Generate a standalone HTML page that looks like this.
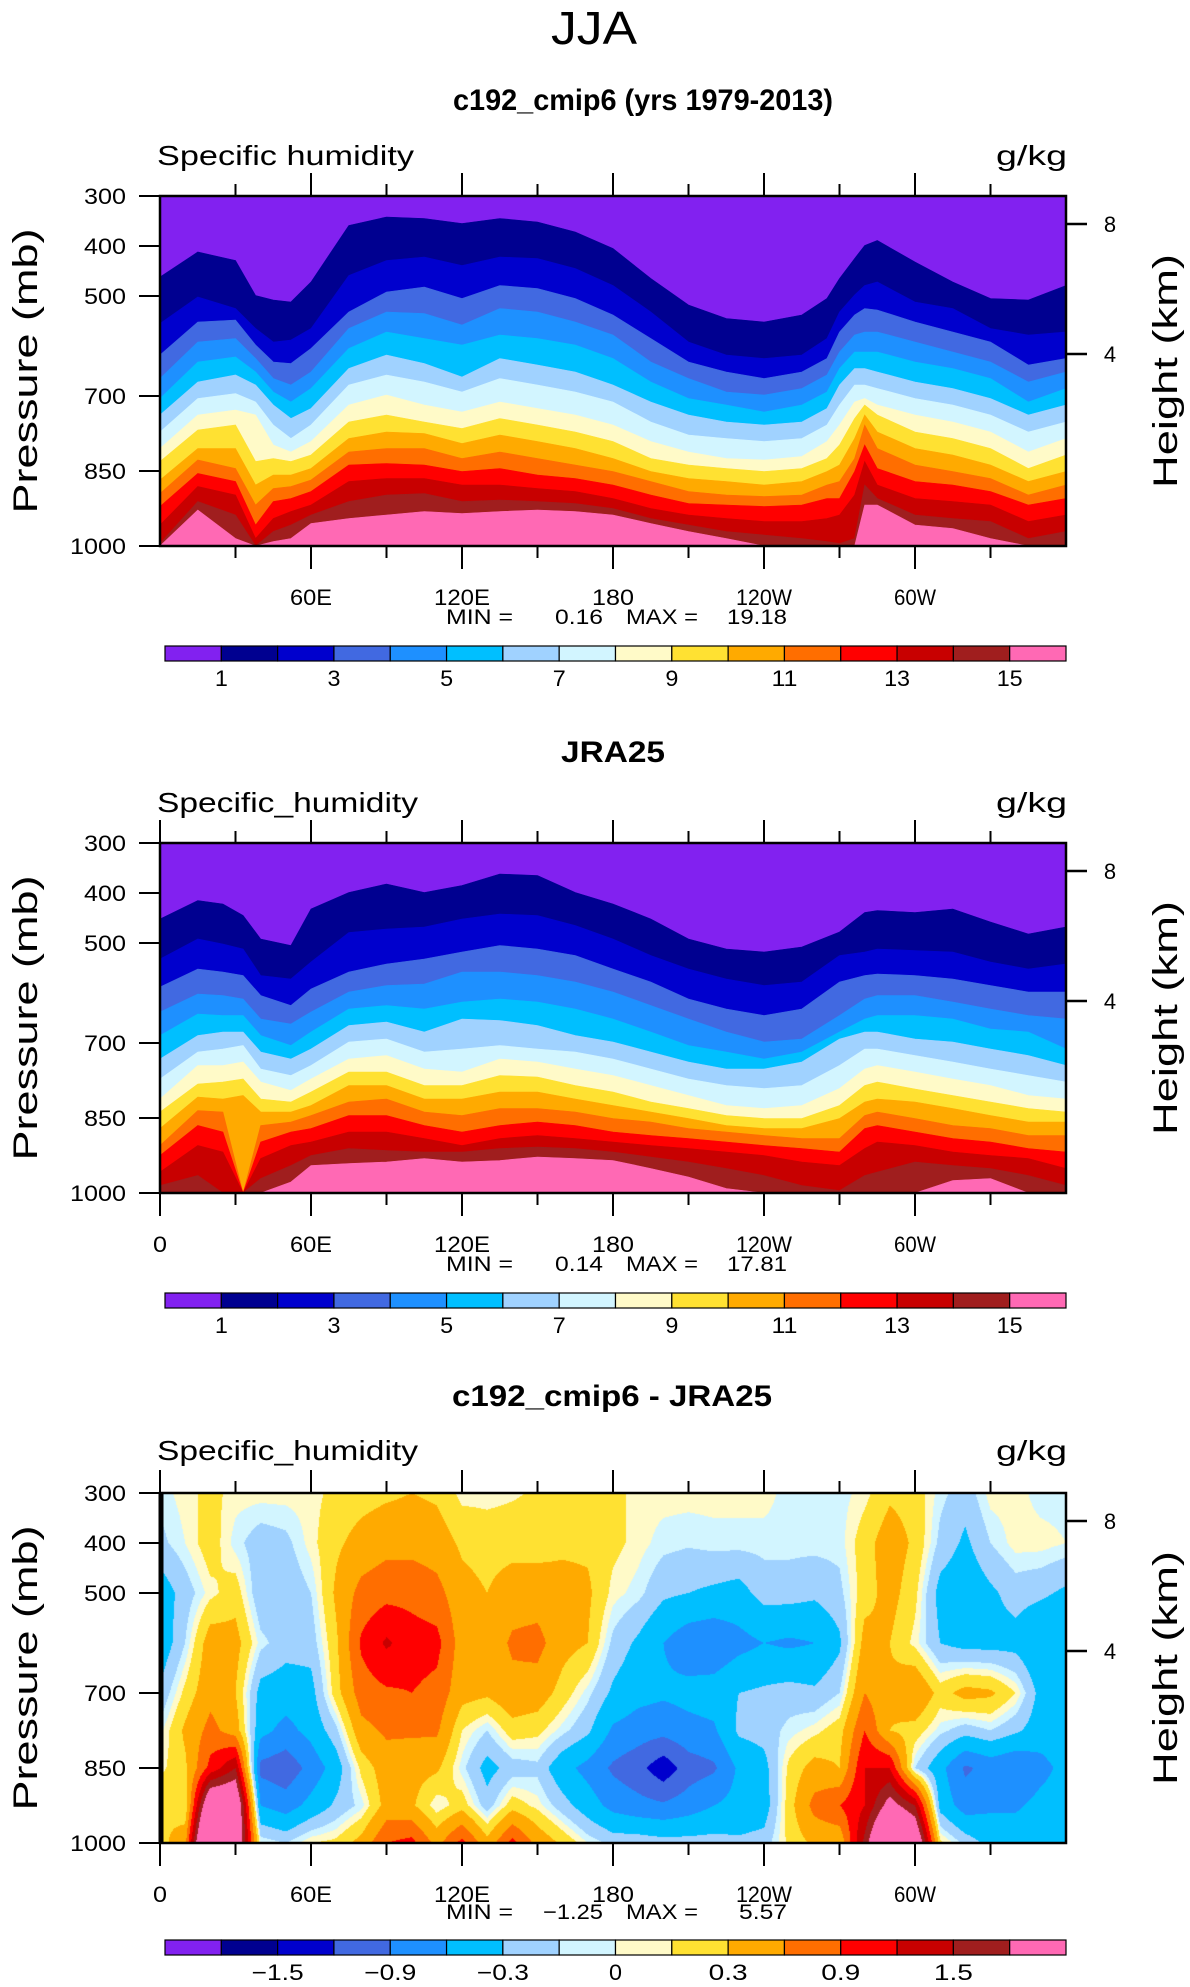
<!DOCTYPE html>
<html><head><meta charset="utf-8">
<style>
html,body{margin:0;padding:0;background:#fff;}
#wrap{position:relative;width:1190px;height:1987px;overflow:hidden;}
svg{position:absolute;left:0;top:0;}
canvas{position:absolute;}
text{font-family:"Liberation Sans",sans-serif;fill:#000;}
</style></head>
<body>
<div id="wrap">
<canvas id="diffCanvas" width="906" height="350" style="left:160px;top:1493px;"></canvas>
<svg id="fig" width="1190" height="1987" xmlns="http://www.w3.org/2000/svg"></svg>
</div>
<script>
// ---------- DATA ----------
const levelColors = ["#8221f0","#000090","#0000cd","#4169e1","#1e90ff","#00bfff","#a0d2ff","#d2f5ff","#fffac8","#ffe132","#ffaa00","#ff6e00","#ff0000","#c80000","#a01e1e","#ff69b4"];
const qLabels = ["1","3","5","7","9","11","13","15"];
const diffLabels = ["-1.5","-0.9","-0.3","0","0.3","0.9","1.5"];
const diffLevels = [-1.8,-1.5,-1.2,-0.9,-0.6,-0.3,-0.1,0,0.1,0.3,0.6,0.9,1.2,1.5,1.8];
const pTicks = [300,400,500,700,850,1000];
const hTicks = [8,4];
const hTickP = [356,616];
const lonTicks = [0,30,60,90,120,150,180,210,240,270,300,330];
const lonLabelPos = [0,60,120,180,240,300];
const lonLabelText = ["0","60E","120E","180","120W","60W"];

// plot 1 : pressure (mb) of contour boundaries 1..15 g/kg at each longitude
const cmipLons = [0,15,30,38,45,52,60,75,90,105,120,135,150,165,180,195,210,225,240,255,265,270,276,280,285,300,315,330,345,360];
const cmipBounds = [
[462,555,618,665,705,738,772,805,831,868,895,921,958,995,1000],
[412,502,552,592,632,672,705,738,768,805,828,855,881,911,928],
[429,525,548,585,622,658,695,728,758,805,845,871,898,938,985],
[499,565,598,625,652,678,712,738,831,878,918,958,985,1000,1000],
[508,592,632,665,692,718,758,798,825,858,885,911,945,971,991],
[512,588,635,678,712,745,785,812,831,858,881,905,931,958,985],
[472,565,605,652,685,725,758,791,818,845,868,891,918,938,955],
[359,459,532,565,605,645,678,718,752,785,812,838,871,911,945],
[342,429,492,532,572,618,658,698,738,772,805,835,865,898,938],
[345,422,482,535,585,635,672,718,752,775,805,838,865,895,931],
[355,439,505,558,598,662,692,732,765,795,825,851,878,911,935],
[345,422,479,525,578,625,665,712,745,778,812,845,878,908,931],
[352,425,485,532,585,638,678,725,758,791,825,858,885,911,928],
[372,445,505,552,598,652,692,738,772,805,838,865,891,915,931],
[405,479,538,578,625,678,712,758,791,825,851,878,905,925,938],
[465,532,585,632,672,712,752,791,825,851,871,898,925,945,955],
[518,592,632,665,705,738,778,812,838,865,891,915,938,958,971],
[545,618,652,692,718,752,785,825,845,871,898,918,945,971,985],
[552,625,665,698,732,758,791,828,851,878,901,921,951,978,1000],
[538,618,652,685,718,752,785,821,845,871,898,918,951,985,1000],
[505,585,625,658,692,725,758,791,825,851,878,905,945,991,1000],
[465,532,572,612,645,678,718,758,798,838,871,905,938,995,1000],
[425,498,538,578,612,645,678,712,745,785,825,851,898,985,1000],
[399,479,525,572,612,645,678,705,718,738,758,798,831,878,918],
[389,472,528,572,612,652,685,718,738,772,805,845,878,905,918],
[432,512,552,592,632,672,705,738,772,805,838,871,905,938,958],
[472,525,572,612,645,685,718,752,785,818,851,878,911,945,965],
[505,565,592,632,665,705,738,772,805,838,865,891,918,951,985],
[508,578,638,672,712,738,772,812,845,871,898,918,951,985,1000],
[479,572,625,652,685,718,752,785,818,851,878,905,938,971,1000]
];
// plot 2
const jraLons = [0,15,25,33,40,52,60,75,90,105,120,135,150,165,180,195,210,225,240,255,270,280,285,300,315,330,345,360];
const jraBounds = [
[452,532,588,638,685,732,772,812,838,871,905,925,958,985,1000],
[415,492,552,602,642,685,718,745,782,808,835,865,905,965,1000],
[422,502,558,605,645,678,712,745,778,812,838,878,918,1000,1000],
[445,512,565,612,645,678,705,738,772,805,1000,1000,1000,1000,1000],
[492,565,605,652,685,718,752,778,812,838,865,898,931,971,1000],
[505,572,625,662,705,732,765,795,818,838,858,878,905,945,978],
[432,538,592,638,678,712,745,772,798,825,845,871,898,925,945],
[399,479,558,598,632,665,698,732,758,785,818,845,878,911,941],
[382,472,542,585,625,658,692,725,758,785,812,845,878,915,938],
[399,468,532,582,632,678,718,752,785,812,838,865,891,918,931],
[385,452,518,558,618,652,712,758,785,812,845,878,905,918,938],
[362,442,505,558,612,655,705,732,765,798,831,865,891,911,935],
[365,445,512,565,618,665,712,738,768,798,831,858,885,908,928],
[399,465,525,578,632,685,718,752,785,812,838,865,891,911,931],
[422,492,552,598,652,698,732,765,798,825,851,878,898,918,935],
[452,525,578,625,678,718,752,785,818,838,858,885,905,928,951],
[492,552,612,652,705,738,772,805,831,851,871,891,911,938,968],
[512,572,632,678,718,752,785,825,845,865,878,898,918,951,991],
[518,585,645,698,732,752,791,831,851,871,885,905,925,965,1000],
[508,578,632,692,718,738,785,825,851,871,891,911,938,985,1000],
[478,525,578,645,678,692,745,791,825,851,891,918,945,995,1000],
[439,518,565,612,652,678,712,752,785,818,845,871,911,965,1000],
[435,512,562,605,645,678,712,745,778,812,838,865,898,958,1000],
[439,515,565,605,645,692,725,758,792,818,851,878,905,938,1000],
[432,518,572,618,652,698,738,772,805,831,865,891,918,945,975],
[458,538,585,632,672,712,752,785,818,845,871,898,925,951,971],
[482,552,598,645,678,725,765,805,831,858,885,911,931,965,1000],
[468,542,598,652,712,745,778,812,838,858,885,918,951,985,1000]
];
// plot 3 : difference field (g/kg) on lon x pressure grid
const diffLons = [0,10,20,30,40,50,60,70,80,90,100,110,120,130,140,150,160,170,180,190,200,210,220,230,240,250,260,270,280,290,300,310,320,330,340,350,360];
const diffP = [300,400,500,600,700,775,850,925,1000];
const diffVals = [
[-0.05,-0.15,-0.45,-0.5,-0.25,-0.05,0.05,0.3,0.2],
[0.05,0.0,-0.2,-0.1,0.15,0.35,0.25,0.1,0.5],
[0.15,0.2,0.05,0.45,0.5,0.7,1.0,2.5,3.5],
[0.05,-0.05,0.2,0.4,0.3,0.45,1.5,2.5,2.5],
[0.05,-0.2,-0.25,-0.05,-0.4,-0.5,-1.0,-0.6,0.0],
[0.05,-0.15,-0.25,-0.2,-0.45,-0.7,-1.1,-0.75,-0.1],
[0.05,0.05,-0.1,-0.2,-0.4,-0.5,-0.8,-0.5,0.1],
[0.15,0.25,0.35,0.25,0.2,-0.15,-0.45,-0.25,0.15],
[0.2,0.4,0.7,0.95,0.75,0.5,0.15,-0.05,0.4],
[0.25,0.5,0.8,1.25,0.85,0.65,0.45,0.4,0.9],
[0.3,0.5,0.8,1.05,0.9,0.65,0.4,0.35,1.0],
[0.25,0.45,0.7,1.0,0.8,0.65,0.35,0.0,0.5],
[0.05,0.25,0.4,0.45,0.4,0.1,-0.05,0.2,1.0],
[0.05,0.2,0.3,0.4,0.35,-0.1,-0.4,-0.2,0.4],
[0.08,0.2,0.45,0.65,0.5,0.2,-0.2,0.2,1.0],
[0.12,0.2,0.45,0.7,0.45,0.15,-0.15,0.05,0.5],
[0.2,0.25,0.4,0.4,0.2,-0.05,-0.5,-0.2,0.25],
[0.2,0.25,0.35,0.3,-0.05,-0.25,-0.7,-0.45,0.0],
[0.15,0.15,0.05,-0.15,-0.35,-0.65,-0.95,-0.7,-0.15],
[0.05,0.05,-0.05,-0.35,-0.5,-0.75,-1.1,-0.8,-0.15],
[0.05,-0.05,-0.25,-0.6,-0.55,-0.8,-1.4,-0.85,-0.2],
[0.05,-0.08,-0.3,-0.8,-0.5,-0.7,-1.05,-0.75,-0.2],
[0.05,-0.05,-0.35,-0.85,-0.45,-0.65,-0.95,-0.6,-0.2],
[0.05,-0.05,-0.4,-0.7,-0.3,-0.25,-0.55,-0.5,-0.25],
[0.05,-0.05,-0.2,-0.6,-0.25,-0.2,-0.4,-0.45,-0.2],
[-0.05,-0.05,-0.2,-0.65,-0.2,-0.05,0.15,0.2,0.15],
[-0.08,-0.05,-0.25,-0.6,-0.25,0.05,0.4,0.7,0.35],
[-0.05,-0.05,-0.15,-0.35,-0.1,0.2,0.3,0.9,0.35],
[0.05,0.2,0.2,0.4,0.6,0.9,1.2,1.2,1.6],
[0.25,0.45,0.4,0.3,0.35,0.3,1.2,2.0,3.0],
[0.2,0.25,0.15,0.05,0.6,0.2,-0.1,1.5,2.5],
[-0.05,-0.15,-0.4,-0.3,0.2,-0.05,-0.5,-0.4,0.15],
[-0.2,-0.35,-0.5,-0.4,0.4,-0.2,-0.95,-0.75,-0.15],
[0.05,-0.1,-0.35,-0.4,0.35,-0.1,-0.8,-0.65,-0.4],
[0.05,0.05,-0.2,-0.4,0.1,-0.25,-0.9,-0.65,-0.4],
[-0.05,0.05,-0.25,-0.6,-0.4,-0.45,-0.7,-0.5,-0.3],
[-0.05,0.0,-0.35,-0.6,-0.45,-0.4,-0.5,-0.45,-0.35]
];

// ---------- GEOMETRY ----------
const NS = "http://www.w3.org/2000/svg";
const svg = document.getElementById("fig");
const X0 = 160, W = 906, H = 350;
const plotTops = [196, 843, 1493];
function xLon(lon){ return X0 + lon/360*W; }
function yP(p, top){ return top + (p-300)/700*H; }
function mk(tag, attrs, parent){
  const e = document.createElementNS(NS, tag);
  for (const k in attrs) e.setAttribute(k, attrs[k]);
  (parent||svg).appendChild(e);
  return e;
}
function txt(s, x, y, size, anchor, parent, extra){
  const t = mk("text", Object.assign({x:x, y:y, "font-size":size, "text-anchor":anchor||"middle"}, extra||{}), parent);
  t.textContent = s;
  return t;
}

// ---------- LAYERED FILLS (plots 1,2) ----------
function drawLayers(lons, bounds, top, name){
  const g = mk("g", {});
  
  
  for (let k = 0; k < 16; k++){
    let pts = [];
    for (let i = 0; i < lons.length; i++){
      const p = k === 0 ? 300 : bounds[i][k-1];
      pts.push(xLon(lons[i]).toFixed(1) + "," + yP(p, top).toFixed(1));
    }
    pts.push(xLon(360).toFixed(1) + "," + yP(1000, top).toFixed(1));
    pts.push(xLon(0).toFixed(1) + "," + yP(1000, top).toFixed(1));
    const poly = mk("polygon", {points: pts.join(" "), fill: levelColors[k], stroke: levelColors[k], "stroke-width": 0.6}, g);
    
    
  }
}
drawLayers(cmipLons, cmipBounds, plotTops[0], "cmip-humidity-contours");
drawLayers(jraLons, jraBounds, plotTops[1], "jra25-humidity-contours");

// ---------- DIFF FIELD (plot 3) ----------
(function(){
  const cv = document.getElementById("diffCanvas");
  const ctx = cv.getContext("2d");
  const img = ctx.createImageData(W, H);
  const rgb = levelColors.map(c => [parseInt(c.substr(1,2),16), parseInt(c.substr(3,2),16), parseInt(c.substr(5,2),16)]);
  for (let py = 0; py < H; py++){
    const p = 300 + (py+0.5)/H*700;
    let j = 0; while (j < diffP.length-2 && p > diffP[j+1]) j++;
    const tp = Math.min(1, Math.max(0, (p-diffP[j])/(diffP[j+1]-diffP[j])));
    for (let px = 0; px < W; px++){
      const lon = (px+0.5)/W*360;
      let i = 0; while (i < diffLons.length-2 && lon > diffLons[i+1]) i++;
      const tl = (lon-diffLons[i])/(diffLons[i+1]-diffLons[i]);
      const v = (1-tl)*((1-tp)*diffVals[i][j] + tp*diffVals[i][j+1]) + tl*((1-tp)*diffVals[i+1][j] + tp*diffVals[i+1][j+1]);
      let k = 0; while (k < diffLevels.length && v > diffLevels[k]) k++;
      const c = rgb[k], o = (py*W+px)*4;
      img.data[o]=c[0]; img.data[o+1]=c[1]; img.data[o+2]=c[2]; img.data[o+3]=255;
    }
  }
  ctx.putImageData(img, 0, 0);
})();

// ---------- AXES ----------
function drawAxes(top, idx, showZero){
  const g = mk("g", {});
  
  
  const fr = mk("rect", {x:X0, y:top, width:W, height:H, fill:"none", stroke:"#000", "stroke-width":2.5}, g);
  
  
  if (idx === 3){
    const ln = mk("line", {x1:X0+1, y1:top, x2:X0+1, y2:top+H, stroke:"#000", "stroke-width":5}, g);
    
    
  }
  lonTicks.forEach(l => {
    if (l === 0 && !showZero) return;
    const len = (l % 60 === 0) ? 23 : 12;
    const x = xLon(l);
    const t1 = mk("line", {x1:x, y1:top, x2:x, y2:top-len, stroke:"#000", "stroke-width":2}, g);
    
    
    const t2 = mk("line", {x1:x, y1:top+H, x2:x, y2:top+H+len, stroke:"#000", "stroke-width":2}, g);
    
    
  });
  lonLabelPos.forEach((l, i) => {
    if (l === 0 && !showZero) return;
    const t = txt(lonLabelText[i], xLon(l), top+H+59, 22, "middle", g, {"textLength": lonLabelText[i].length*14, "lengthAdjust":"spacingAndGlyphs"});
    
    
  });
  pTicks.forEach(p => {
    const y = yP(p, top);
    const tk = mk("line", {x1:X0, y1:y, x2:X0-21, y2:y, stroke:"#000", "stroke-width":2}, g);
    
    
    const s = String(p);
    const t = txt(s, 126, y+8, 22, "end", g, {"textLength": s.length*14, "lengthAdjust":"spacingAndGlyphs"});
    
    
  });
  hTicks.forEach((h, i) => {
    const y = yP(hTickP[i], top);
    const tk = mk("line", {x1:X0+W, y1:y, x2:X0+W+21, y2:y, stroke:"#000", "stroke-width":2.5}, g);
    
    
    const t = txt(String(h), 1110, y+8, 22, "middle", g);
    
    
  });
  const cy = top + H/2;
  const yl = txt("Pressure  (mb)", 0, 0, 34, "middle", g, {"transform":"translate(37," + cy + ") rotate(-90)", "textLength":285, "lengthAdjust":"spacingAndGlyphs"});
  
  
  const hl = txt("Height  (km)", 0, 0, 34, "middle", g, {"transform":"translate(1177," + cy + ") rotate(-90)", "textLength":234, "lengthAdjust":"spacingAndGlyphs"});
  
  
}
drawAxes(plotTops[0], 1, false);
drawAxes(plotTops[1], 2, true);
drawAxes(plotTops[2], 3, true);

// ---------- COLORBARS ----------
function drawColorbar(top, labels, startIdx, name){
  const g = mk("g", {});
  
  
  const bw = 901/16;
  levelColors.forEach((c, i) => {
    const r = mk("rect", {x:165+i*bw, y:top, width:bw, height:15, fill:c, stroke:"#000", "stroke-width":1.2}, g);
    
    
  });
  labels.forEach((s, i) => {
    const x = 165 + (startIdx + 2*i)*bw;
    const t = txt(s.replace("-", "\u2212"), x, top+40, 22, "middle", g, {"textLength": s.length*13, "lengthAdjust":"spacingAndGlyphs"});
    
    
  });
}
drawColorbar(646, qLabels, 1, "colorbar-cmip");
drawColorbar(1293, qLabels, 1, "colorbar-jra25");
drawColorbar(1940, diffLabels, 2, "colorbar-difference");

// ---------- TEXT ----------
function label(s, x, y, size, anchor, len, name, extra){
  const a = Object.assign({"lengthAdjust":"spacingAndGlyphs"}, extra||{});
  if (len) a.textLength = len;
  const t = txt(s, x, y, size, anchor, svg, a);
  
  
  return t;
}
label("JJA", 594, 44, 46, "middle", 86, "figure-title", {"font-weight":"normal"});
label("c192_cmip6 (yrs 1979-2013)", 643, 110, 30, "middle", 380, "plot-title-cmip", {"font-weight":"bold"});
label("JRA25", 613, 762, 30, "middle", 104, "plot-title-jra25", {"font-weight":"bold"});
label("c192_cmip6 - JRA25", 612, 1406, 30, "middle", 320, "plot-title-difference", {"font-weight":"bold"});
label("Specific humidity", 157, 165, 28, "start", 257, "variable-label");
label("g/kg", 1067, 165, 28, "end", 71, "units-label");
label("Specific_humidity", 157, 812, 28, "start", 261, "variable-label");
label("g/kg", 1067, 812, 28, "end", 71, "units-label");
label("Specific_humidity", 157, 1460, 28, "start", 261, "variable-label");
label("g/kg", 1067, 1460, 28, "end", 71, "units-label");
// min/max
const minMax = [[616,"0.16","19.18"],[1263,"0.14","17.81"],[1911,"\u22121.25","5.57"]];
minMax.forEach(m => {
  label("MIN =", 446, m[0]+8, 21, "start", 67, "min-label");
  label(m[1], 603, m[0]+8, 21, "end", m[1].length*12, "min-value");
  label("MAX =", 626, m[0]+8, 21, "start", 72, "max-label");
  label(m[2], 787, m[0]+8, 21, "end", m[2].length*12, "max-value");
});
</script>
</body></html>
